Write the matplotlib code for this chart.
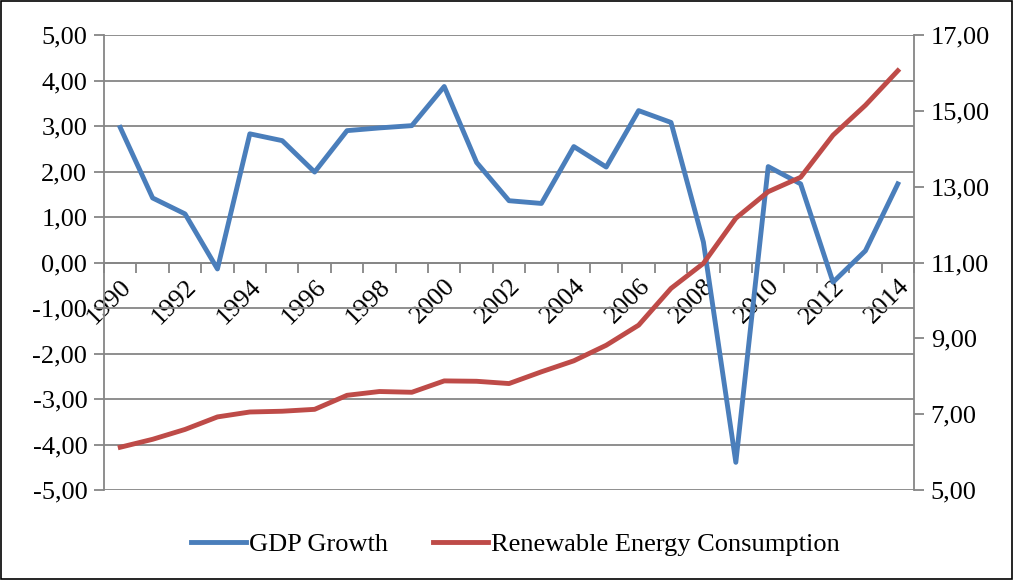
#!/usr/bin/env python
import numpy as np
import matplotlib
matplotlib.use('Agg')
import matplotlib.pyplot as plt
from matplotlib.ticker import FuncFormatter, FixedLocator
from matplotlib.patches import Rectangle

years = list(range(1990, 2015))
gdp_growth = [2.97, 1.42, 1.07, -0.14, 2.83, 2.68, 1.99, 2.90, 2.96, 3.01,
              3.87, 2.20, 1.36, 1.30, 2.55, 2.10, 3.34, 3.08, 0.45, -4.39,
              2.11, 1.73, -0.43, 0.26, 1.73]
renewable = [6.13, 6.34, 6.60, 6.93, 7.06, 7.08, 7.13, 7.50, 7.60, 7.58,
             7.88, 7.87, 7.81, 8.12, 8.41, 8.82, 9.35, 10.32, 10.98, 12.17,
             12.87, 13.25, 14.36, 15.15, 16.06]

GRAY = '#868686'
BLUE = '#4A7EBB'
RED = '#BE4B48'


def comma_fmt(v, pos):
    return ('%.2f' % v).replace('.', ',')


def plot_chart():
    plt.rcParams['font.family'] = ['Liberation Serif', 'DejaVu Serif']
    fig = plt.figure(figsize=(10.14, 5.8), dpi=100)
    ax = fig.add_axes([0.1026, 0.155, 0.7988, 0.7845])
    ax2 = ax.twinx()

    ind = np.arange(len(years))
    l1, = ax.plot(ind, gdp_growth, color=BLUE, lw=3.5, label='GDP Growth', zorder=3)
    l2, = ax2.plot(ind, renewable, color=RED, lw=3.5, label='Renewable Energy Consumption',
                   zorder=3)

    ax.set_xlim(-0.5, len(years) - 0.5)
    ax.set_ylim(-5, 5)
    ax.set_yticks(np.arange(-5, 6, 1))
    ax.yaxis.set_major_formatter(FuncFormatter(comma_fmt))
    ax2.set_ylim(5, 17)
    ax2.set_yticks(np.arange(5, 18, 2))
    ax2.yaxis.set_major_formatter(FuncFormatter(comma_fmt))

    ax.grid(axis='y', color=GRAY, lw=1.3, zorder=0)
    ax.set_axisbelow(True)

    for a in (ax, ax2):
        a.spines['top'].set_visible(False)
        for s in ('left', 'right', 'bottom'):
            a.spines[s].set_color(GRAY)
            a.spines[s].set_linewidth(1.3)
    ax2.spines['bottom'].set_visible(False)
    ax.spines['right'].set_visible(False)
    ax2.spines['left'].set_visible(False)
    ax.spines['bottom'].set_position(('data', 0))

    ax.tick_params(axis='y', direction='out', length=7, width=1.3, color=GRAY,
                   labelsize=19, pad=5)
    ax2.tick_params(axis='y', direction='out', length=7, width=1.3, color=GRAY,
                    labelsize=19, pad=5)

    # labels at category centres, tick marks between categories
    ax.xaxis.set_major_locator(FixedLocator(ind[::2]))
    ax.set_xticklabels([str(y) for y in years[::2]])
    ax.xaxis.set_minor_locator(FixedLocator(np.arange(-0.5, len(years), 1.0)))
    ax.tick_params(axis='x', which='major', length=0, labelsize=19, pad=9)
    ax.tick_params(axis='x', which='minor', direction='out', length=7, width=1.3,
                   color=GRAY)
    for lab in ax.get_xticklabels():
        lab.set_rotation(45)
        lab.set_ha('right')
        lab.set_va('top')
        lab.set_rotation_mode('anchor')

    fig.legend(handles=[l1, l2], loc='lower center', bbox_to_anchor=(0.508, 0.0),
               ncol=2, frameon=False, fontsize=19, handlelength=2.1,
               columnspacing=1.7, handletextpad=0.1)

    fig.patches.append(Rectangle((0.001, 0.001), 0.997, 0.997, transform=fig.transFigure,
                                 fill=False, edgecolor='black', lw=1.2))
    plt.savefig('out.png', dpi=100)


if __name__ == "__main__":
    plot_chart()
